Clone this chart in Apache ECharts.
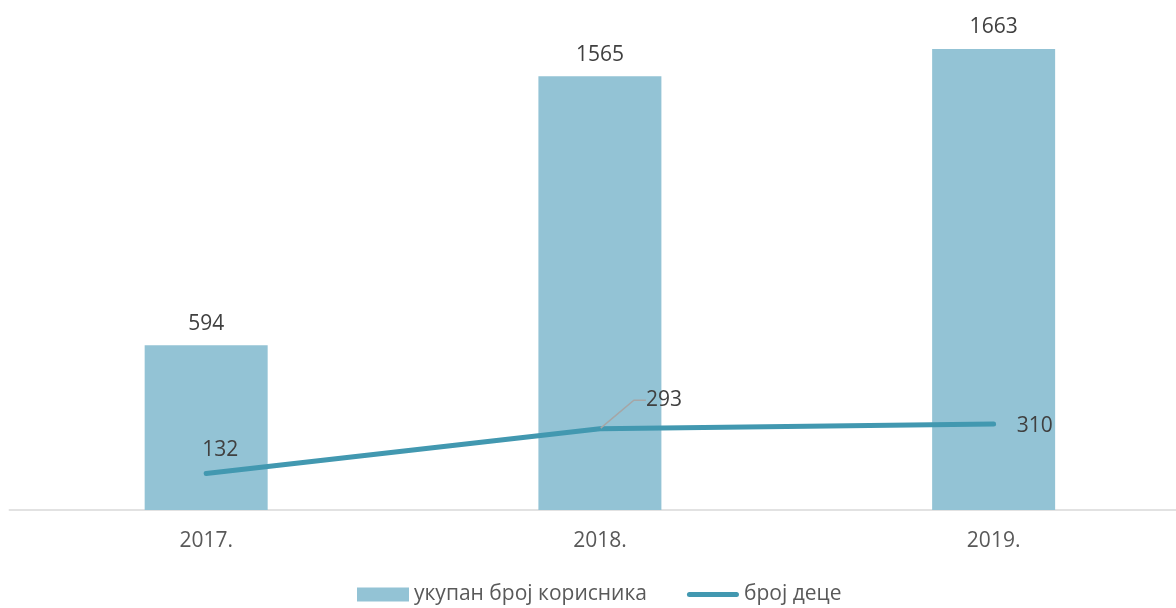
<!DOCTYPE html>
<html>
<head>
<meta charset="utf-8">
<script src="https://cdn.jsdelivr.net/npm/echarts@6/dist/echarts.min.js"></script>
<style>
  html, body { margin: 0; padding: 0; background: #ffffff; }
  #chart { width: 1176px; height: 608px; }
</style>
</head>
<body>
<div id="chart"></div>
<script>
// Years on the category axis
const years = ['2017.', '2018.', '2019.'];
// Total number of users per year
const totalUsers = [594, 1565, 1663];
// Number of children per year
const children = [132, 293, 310];
// Series names shown in the legend
const seriesNames = ['укупан број корисника', 'број деце'];

const FONT = '"Open Sans", "Noto Sans", sans-serif';
const FONT_SIZE = 21;
const BAR_COLOR = '#93C3D5';
const LINE_COLOR = '#4298B0';

// Shift of each children-line label away from its default spot
const childLabelShift = [
  { dx: 14, dy: -7 },
  { dx: 64, dy: -12 },
  { dx: 0, dy: 2 }
];

// Legend glyph for the line: a thick rounded stroke inside a 52x14 box
const LINE_ICON = 'path://M0,0 M52,14 M2.5,4.5 L49.5,4.5 A2.5,2.5 0 0 1 49.5,9.5 L2.5,9.5 A2.5,2.5 0 0 1 2.5,4.5 Z';

const chart = echarts.init(document.getElementById('chart'), null, { renderer: 'canvas' });

chart.setOption({
  backgroundColor: '#ffffff',
  animation: false,
  textStyle: { fontFamily: FONT },
  grid: { left: 9.3, width: 1181.2, top: 11, bottom: 98, outerBoundsMode: 'none' },
  legend: {
    left: 352,
    top: 579,
    itemWidth: 52,
    itemHeight: 14,
    itemGap: 40,
    textStyle: { fontFamily: FONT, fontSize: FONT_SIZE, color: '#595959' },
    data: [
      { name: seriesNames[0], icon: 'rect' },
      { name: seriesNames[1], icon: LINE_ICON }
    ]
  },
  xAxis: {
    type: 'category',
    data: years,
    axisLine: { lineStyle: { color: '#D9D9D9', width: 1.5 } },
    axisTick: { show: false },
    axisLabel: { fontFamily: FONT, fontSize: FONT_SIZE, color: '#595959', margin: 21 }
  },
  yAxis: {
    type: 'value',
    min: 0,
    max: 1800,
    show: false,
    splitLine: { show: false }
  },
  series: [
    {
      name: seriesNames[0],
      type: 'bar',
      barWidth: 123,
      data: totalUsers,
      itemStyle: { color: BAR_COLOR },
      label: {
        show: true,
        position: 'top',
        distance: 11,
        fontFamily: FONT,
        fontSize: FONT_SIZE,
        color: '#404040'
      },
      z: 2
    },
    {
      name: seriesNames[1],
      type: 'line',
      data: children.map((v, i) => ({
        value: v,
        label: i === 2
          ? { show: true, position: 'right', distance: 22 }
          : { show: true, position: 'top' },
        labelLine: { show: i === 1 }
      })),
      symbol: 'circle',
      symbolSize: 2,
      showSymbol: true,
      lineStyle: { color: LINE_COLOR, width: 5, cap: 'round' },
      itemStyle: { color: LINE_COLOR },
      label: {
        show: true,
        fontFamily: FONT,
        fontSize: FONT_SIZE,
        color: '#404040'
      },
      labelLayout: function (p) {
        return childLabelShift[p.dataIndex];
      },
      labelLine: {
        show: false,
        length2: 12,
        lineStyle: { color: '#A6A6A6', width: 1.5 }
      },
      z: 3
    }
  ]
});
</script>
</body>
</html>
